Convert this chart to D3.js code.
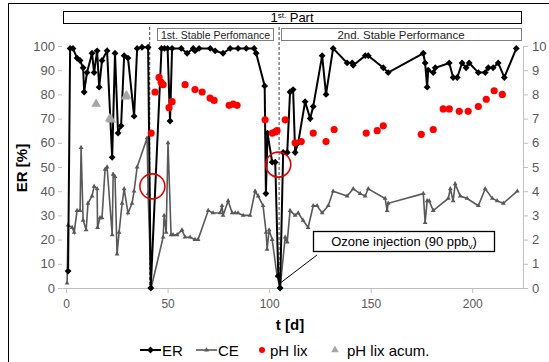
<!DOCTYPE html>
<html>
<head>
<meta charset="utf-8">
<script src="https://cdn.jsdelivr.net/npm/d3@7"></script>
<style>
  body { margin: 0; background: #fff; }
  svg { font-family: "Liberation Sans", Arial, sans-serif; }
</style>
</head>
<body>
<div id="chart"></div>
<script>
// ER [%] (black diamonds), day vs value
const erData = [
  [1,7],[2,99],[3.4,99],[5.4,95],[6.9,94],[8.4,91],[8.9,81],[10.3,89],[12.8,97],[13.8,89],
  [15.3,98],[16.3,83],[17.7,94],[20.2,98],[22.7,54],[24.1,97],[25.6,64],[27.1,67],[28.6,96],
  [30.5,95],[33.5,71],[35,99],[37.4,99.5],[40.4,99.5],[41.7,0],[47,99],[48.5,99],[50,99],
  [51.2,69],[52.2,99],[56.7,99],[59.6,97],[62.6,99],[63.5,98],[65.5,99],[71,99],[73.4,98],
  [77.3,97],[80.8,99],[84.7,99],[88.7,99],[92.6,99],[93.6,97],[97.8,83.5],[98.4,39],[99.2,64],
  [101.5,52],[103,52],[104.5,5],[105.4,0],[106.9,56],[108.9,56],[110.3,81],[111.8,82],
  [112.8,56],[114.3,60],[117.7,77],[120.2,70],[121.7,75],[126.1,96],[128,80],[131.5,99],
  [138.4,93],[140.9,93],[141.4,92],[147.3,96],[148.8,96],[156.2,91],[158.6,89],[175.9,97],
  [176.8,93],[177.8,83],[178.3,90],[180.8,89],[181.8,91],[188.7,93],[190.6,87],[192.6,87],
  [195,93],[197,91],[198.5,93],[203,89],[206.4,89],[207.9,91],[210.3,91],[212.8,93],
  [215.8,87],[221.7,99]
];

// CE [%] (grey line, small triangles)
const ceData = [
  [0.5,2],[1,26],[3,25],[4,23],[5.4,32],[6.9,32],[7.4,58],[8.4,28],[9.9,24],[10.8,35],
  [12.8,38],[13.8,42],[15.3,41],[15.5,25],[16.7,29],[17.7,29],[19.2,49],[20.2,50],[22.7,22],
  [23.2,47],[24.1,46],[25.1,14],[26.1,23],[27.6,35],[28.6,41],[30.5,31],[32.5,35],[33.5,40],
  [35,50],[39.9,62],[40.4,39],[41.9,0],[47.8,21],[48.3,30],[49.3,23],[50.2,60],[51.7,22],
  [52.7,22],[54.7,22],[57.1,24],[58.6,21],[61.1,21],[63.5,20],[65,20],[70,32],[72.4,31],
  [75.9,31],[76.8,34],[77.3,30],[79.8,36],[81.8,31],[83.3,31],[84.7,31],[87.2,30],[90.6,30],
  [93.1,40],[94.6,38],[97,34],[98.5,23],[99,16],[100,24],[101.5,20],[103.9,5],[105.4,0],
  [107.9,21],[108.9,19],[110.3,32],[112.8,30],[114.3,31],[116.7,28],[119.2,25],[121.7,34],
  [123.6,34],[126.1,31],[129.1,34],[131.5,40],[138.4,38],[141.4,41],[144.8,39],[147.3,38],
  [148.8,41],[157.1,37],[158.1,32],[158.6,35],[175.9,39],[176.8,27],[177.8,36],[178.8,36],
  [180.8,32],[188.2,37],[189.2,41],[190.6,36],[191.6,43],[194.1,38],[197.5,37],[203,34],
  [206.4,41],[209.9,37],[212.3,36],[215.3,35],[222.2,40]
];

// pH lix (red dots, right axis)
const phLix = [
  [41.9,6.4],[43.8,8.1],[45.8,8.7],[46.8,8.5],[47.8,8.4],[50.7,7.45],[52.2,7.7],[58.6,8.4],
  [63.5,8.2],[67,8.1],[70.9,7.85],[72.9,7.75],[80.3,7.55],[82.3,7.6],[84.2,7.55],[98,6.95],
  [101.5,6.4],[103,6.45],[103.9,6.5],[107.9,6.95],[112.8,6.0],[115.8,6.05],[121.7,6.4],
  [128,6.05],[132,6.55],[147.8,6.4],[153.2,6.5],[156.2,6.7],[174.9,6.35],[180.8,6.55],
  [185.7,7.4],[188.7,7.4],[193.6,7.3],[198,7.3],[203,7.5],[206.9,7.8],[210.8,8.15],[214.8,8.0]
];

// pH lix acum. (grey triangles, right axis)
const phAcum = [[14.8,7.6],[21.5,7.0],[22.2,6.95],[29.3,7.9],[29.8,7.95]];

const xTicks = [0, 50, 100, 150, 200];
const yTicks = [0,10,20,30,40,50,60,70,80,90,100];
const y2Ticks = [0,1,2,3,4,5,6,7,8,9,10];
const markers = [41.2, 104.9]; // dashed phase separators (days)
const circles = [[42.5, 42], [104.5, 51]]; // red circles (day, ER)

const W = 549, H = 362;
const svg = d3.select("#chart").append("svg")
  .attr("width", W).attr("height", H);

// outer frame
svg.append("rect")
  .attr("x", 8.5).attr("y", 3.5).attr("width", 600).attr("height", 400)
  .attr("fill", "none").attr("stroke", "#000").attr("stroke-width", 1);

const x = d3.scaleLinear().domain([-2, 225]).range([62, 523]);
const y = d3.scaleLinear().domain([0, 100]).range([288, 46]);
const y2 = d3.scaleLinear().domain([0, 10]).range([288, 46]);

const tickCol = "#595959";
const axisCol = "#bfbfbf";

// x axis
const gx = svg.append("g").attr("transform", "translate(0,288)")
  .call(d3.axisBottom(x).tickValues(xTicks).tickSize(5).tickSizeOuter(0));
gx.select(".domain").attr("stroke", axisCol);
gx.selectAll(".tick line").attr("stroke", axisCol);
gx.selectAll(".tick text").attr("fill", tickCol).style("font-size", "12px").attr("dy", "1em");

// left axis (ticks only)
const gy = svg.append("g").attr("transform", "translate(62,0)")
  .call(d3.axisLeft(y).tickValues(yTicks).tickSize(4).tickSizeOuter(0));
gy.select(".domain").remove();
gy.selectAll(".tick line").attr("stroke", axisCol);
gy.selectAll(".tick text").attr("fill", tickCol).style("font-size", "13px").attr("x", -7);

// right axis
const gy2 = svg.append("g").attr("transform", "translate(523,0)")
  .call(d3.axisRight(y2).tickValues(y2Ticks).tickSize(5).tickSizeOuter(0));
gy2.select(".domain").attr("stroke", axisCol);
gy2.selectAll(".tick line").attr("stroke", axisCol);
gy2.selectAll(".tick text").attr("fill", tickCol).style("font-size", "13px").attr("x", 9);

// axis titles
svg.append("text").attr("x", 290).attr("y", 330).attr("text-anchor", "middle")
  .style("font-size", "15px").style("font-weight", "bold").attr("fill", "#000").text("t [d]");
svg.append("text").attr("transform", "translate(27,168) rotate(-90)")
  .attr("text-anchor", "middle").style("font-size", "15px").style("font-weight", "bold")
  .attr("fill", "#000").text("ER [%]");

// header boxes
svg.append("rect").attr("x", 63.5).attr("y", 11.5).attr("width", 458).attr("height", 12)
  .attr("fill", "#fff").attr("stroke", "#000");
const partTxt = svg.append("text").attr("x", 292).attr("y", 22).attr("text-anchor", "middle")
  .style("font-size", "13px").attr("fill", "#000");
partTxt.append("tspan").text("1");
partTxt.append("tspan").attr("dy", -4).style("font-size", "8px").text("st.");
partTxt.append("tspan").attr("dy", 4).text(" Part");

svg.append("rect").attr("x", 157.5).attr("y", 28.5).attr("width", 116).attr("height", 12)
  .attr("fill", "#fff").attr("stroke", "#7f7f7f");
svg.append("text").attr("x", 215.5).attr("y", 38.5).attr("text-anchor", "middle")
  .style("font-size", "10.5px").attr("fill", "#262626").text("1st. Stable Perfomance");
svg.append("rect").attr("x", 281.5).attr("y", 28.5).attr("width", 240).attr("height", 12)
  .attr("fill", "#fff").attr("stroke", "#7f7f7f");
svg.append("text").attr("x", 401).attr("y", 38.5).attr("text-anchor", "middle")
  .style("font-size", "11.5px").attr("fill", "#262626").text("2nd. Stable Performance");

// dashed separators
svg.selectAll(".sep").data(markers).enter().append("line")
  .attr("x1", d => x(d)).attr("x2", d => x(d)).attr("y1", 27).attr("y2", 288)
  .attr("stroke", "#404040").attr("stroke-width", 1).attr("stroke-dasharray", "3,2");

// CE line
const line = d3.line().x(d => x(d[0])).y(d => y(d[1]));
svg.append("path").datum(ceData).attr("d", line)
  .attr("fill", "none").attr("stroke", "#595959").attr("stroke-width", 1.6);
const tri = d3.symbol().type(d3.symbolTriangle);
svg.selectAll(".ce").data(ceData).enter().append("path")
  .attr("transform", d => `translate(${x(d[0])},${y(d[1])})`)
  .attr("d", tri.size(10)()).attr("fill", "#595959");

// ER line
svg.append("path").datum(erData).attr("d", line)
  .attr("fill", "none").attr("stroke", "#000").attr("stroke-width", 2);
const dia = d3.symbol().type(d3.symbolDiamond2);
svg.selectAll(".er").data(erData).enter().append("path")
  .attr("transform", d => `translate(${x(d[0])},${y(d[1])})`)
  .attr("d", dia.size(30)()).attr("fill", "#000");

// pH lix
svg.selectAll(".ph").data(phLix).enter().append("circle")
  .attr("cx", d => x(d[0])).attr("cy", d => y2(d[1])).attr("r", 3.6).attr("fill", "#ff0000");

// pH lix acum
svg.selectAll(".pha").data(phAcum).enter().append("path")
  .attr("transform", d => `translate(${x(d[0])},${y2(d[1])})`)
  .attr("d", tri.size(40)()).attr("fill", "#a6a6a6");

// red circles
svg.selectAll(".circ").data(circles).enter().append("circle")
  .attr("cx", d => x(d[0])).attr("cy", d => y(d[1])).attr("r", 12.5)
  .attr("fill", "none").attr("stroke", "#e00000").attr("stroke-width", 1.6);

// ozone annotation
svg.append("line").attr("x1", 317).attr("y1", 255).attr("x2", x(105.4)).attr("y2", y(2))
  .attr("stroke", "#000").attr("stroke-width", 1);
svg.append("rect").attr("x", 313.5).attr("y", 231.5).attr("width", 181).attr("height", 20)
  .attr("fill", "#fff").attr("stroke", "#000").attr("stroke-width", 1.3);
const oz = svg.append("text").attr("x", 404).attr("y", 246).attr("text-anchor", "middle")
  .style("font-size", "13px").attr("fill", "#000");
oz.append("tspan").text("Ozone injection (90 ppb");
oz.append("tspan").attr("dy", 3).style("font-size", "8px").text("v");
oz.append("tspan").attr("dy", -3).text(")");

// legend
const leg = svg.append("g").attr("transform", "translate(0,350)");
leg.append("line").attr("x1", 140).attr("x2", 161).attr("y1", 0).attr("y2", 0)
  .attr("stroke", "#000").attr("stroke-width", 2);
leg.append("path").attr("transform", "translate(150.5,0)").attr("d", dia.size(30)()).attr("fill", "#000");
leg.append("text").attr("x", 162).attr("y", 5.5).style("font-size", "15px").attr("fill", "#000").text("ER");
leg.append("line").attr("x1", 196).attr("x2", 217).attr("y1", 0).attr("y2", 0)
  .attr("stroke", "#595959").attr("stroke-width", 1.6);
leg.append("path").attr("transform", "translate(206.5,0)").attr("d", tri.size(10)()).attr("fill", "#595959");
leg.append("text").attr("x", 218).attr("y", 5.5).style("font-size", "15px").attr("fill", "#000").text("CE");
leg.append("circle").attr("cx", 262).attr("cy", 0).attr("r", 3).attr("fill", "#ff0000");
leg.append("text").attr("x", 270).attr("y", 5.5).style("font-size", "15px").attr("fill", "#000").text("pH lix");
leg.append("path").attr("transform", "translate(335,0)").attr("d", tri.size(25)()).attr("fill", "#a6a6a6");
leg.append("text").attr("x", 347).attr("y", 5.5).style("font-size", "15px").attr("fill", "#000").text("pH lix acum.");
</script>
</body>
</html>
